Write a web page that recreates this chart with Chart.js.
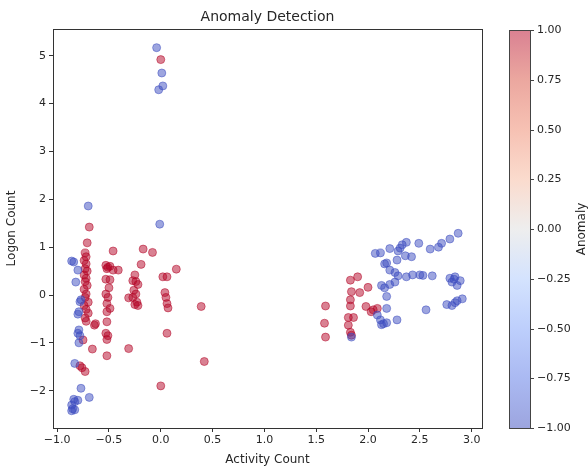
<!DOCTYPE html>
<html>
<head>
<meta charset="utf-8">
<script src="https://cdn.jsdelivr.net/npm/chart.js@4.4.0/dist/chart.umd.min.js"></script>
<style>
  html, body { margin: 0; padding: 0; background: #fff; }
</style>
</head>
<body>
<canvas id="grafico" width="588" height="468"></canvas>
<script>
/* Puntos normales (anomalía = -1) */
var normalX = [-0.04, 0.01, 0.02, -0.02, -0.70, -0.01,
  -0.86, -0.84, -0.80, -0.82, -0.77, -0.78, -0.79, -0.80, -0.79, -0.80, -0.78, -0.79,
  -0.83, -0.77, -0.69, -0.84, -0.83, -0.86, -0.85, -0.83, -0.86, -0.80,
  2.07, 2.12, 2.21, 2.29, 2.31, 2.33, 2.37, 2.36, 2.42, 2.49, 2.60, 2.68, 2.71, 2.79, 2.87,
  2.18, 2.16, 2.28, 2.21, 2.26, 2.29, 2.37, 2.43, 2.50, 2.53, 2.62,
  2.13, 2.16, 2.21, 2.26, 2.18,
  2.79, 2.84, 2.89, 2.86, 2.81, 2.83,
  2.76, 2.81, 2.86, 2.91, 2.84,
  2.56, 2.18, 2.09, 2.12, 2.15, 2.18, 2.13, 2.28, 1.84];
var normalY = [5.17, 4.64, 4.37, 4.29, 1.86, 1.48,
  0.71, 0.69, 0.52, 0.27, -0.10, -0.14, -0.35, -0.40, -0.73, -0.80, -0.85, -1.00,
  -1.43, -1.95, -2.14, -2.18, -2.23, -2.30, -2.38, -2.40, -2.42, -2.20,
  0.87, 0.88, 0.97, 0.92, 0.98, 1.05, 1.10, 0.82, 0.80, 1.08, 0.96, 1.00, 1.08, 1.17, 1.29,
  0.67, 0.65, 0.73, 0.52, 0.47, 0.40, 0.38, 0.42, 0.42, 0.41, 0.40,
  0.20, 0.15, 0.22, 0.27, -0.03,
  0.35, 0.38, 0.30, 0.20, 0.27, 0.33,
  -0.20, -0.22, -0.12, -0.08, -0.16,
  -0.31, -0.28, -0.42, -0.52, -0.60, -0.58, -0.62, -0.52, -0.88];

/* Puntos anómalos (anomalía = 1) */
var anomaliaX = [0.00,
  -0.69, -0.71, -0.46, -0.17, -0.08, -0.19, 0.15, -0.41,
  -0.73, -0.72, -0.74, -0.72, -0.73, -0.71, -0.74, -0.72, -0.73, -0.71, -0.74, -0.72,
  -0.73, -0.70, -0.74, -0.72, -0.70, -0.73, -0.72, -0.75, -0.66, -0.78, -0.76, -0.73,
  -0.53, -0.51, -0.49, -0.52, -0.46, -0.53, -0.49, -0.50, -0.53, -0.51, -0.52, -0.49,
  -0.52, -0.52, -0.53, -0.51, -0.52, -0.52, -0.64, -0.63,
  -0.25, -0.27, -0.24, -0.22, -0.26, -0.24, -0.27, -0.23, -0.25, -0.22, -0.31, -0.31,
  0.02, 0.06, 0.04, 0.05, 0.06, 0.07, 0.06, 0.39, 0.42, 0.00,
  1.59, 1.58, 1.59, 1.83, 1.90, 1.84, 1.92, 2.00, 1.83, 1.83, 1.98, 2.05, 2.09,
  1.81, 1.86, 1.81, 1.83, 1.84, 2.03];
var anomaliaY = [4.92,
  1.42, 1.09, 0.92, 0.96, 0.89, 0.64, 0.54, 0.52,
  0.88, 0.80, 0.72, 0.65, 0.55, 0.50, 0.42, 0.35, 0.28, 0.20, 0.12, 0.02,
  -0.05, -0.15, -0.22, -0.30, -0.38, -0.48, -0.55, -0.94, -1.13, -1.48, -1.52, -1.60,
  0.62, 0.58, 0.60, 0.55, 0.52, 0.33, 0.32, 0.15, 0.02, -0.05, -0.18, -0.28,
  -0.35, -0.56, -0.80, -0.85, -0.93, -1.27, -0.63, -0.60,
  0.42, 0.30, 0.28, 0.22, 0.10, 0.02, -0.05, -0.15, -0.20, -0.22, -0.06, -1.12,
  0.38, 0.38, 0.05, -0.05, -0.18, -0.27, -0.80, -0.24, -1.39, -1.90,
  -0.23, -0.59, -0.88, 0.31, 0.38, 0.07, 0.05, 0.16, -0.10, -0.23, -0.24, -0.31, -0.28,
  -0.47, -0.47, -0.63, -0.78, -0.84, -0.35];

/* Marcas de la barra de color */
var barraTicks = [-1.00, -0.75, -0.50, -0.25, 0.00, 0.25, 0.50, 0.75, 1.00];

var azul = 'rgba(59, 76, 192, 0.5)';
var rojo = 'rgba(180, 4, 38, 0.5)';
var texto = '#262626';
var fuente = 'DejaVu Sans';

function menos(str) {
  return String(str).replace('-', '\u2212');
}

function aPuntos(xs, ys) {
  return xs.map(function(x, i) {
    return { x: x, y: ys[i] };
  });
}

/* Paleta coolwarm aproximada, de -1 a 1 */
var coolwarm = [
  [59, 76, 192], [86, 116, 229], [124, 159, 249], [170, 199, 253],
  [221, 221, 221], [246, 183, 156], [238, 132, 104], [216, 80, 64], [180, 4, 38]
];

/* Título, marco completo de los ejes y barra de color */
var marcoYBarra = {
  id: 'marcoYBarra',
  afterDraw: function(chart) {
    var ctx = chart.ctx;
    var a = chart.chartArea;
    ctx.save();

    ctx.fillStyle = texto;
    ctx.font = '14px "' + fuente + '"';
    ctx.textAlign = 'center';
    ctx.textBaseline = 'middle';
    ctx.fillText('Anomaly Detection', (a.left + a.right) / 2, 17);

    ctx.strokeStyle = '#333';
    ctx.lineWidth = 1;
    ctx.strokeRect(Math.round(a.left) + 0.5, Math.round(a.top) + 0.5,
      Math.round(a.right - a.left), Math.round(a.bottom - a.top));

    var bx = Math.round(a.right) + 27;
    var bw = 21;
    var top = Math.round(a.top) + 1;
    var bottom = Math.round(a.bottom);
    var grad = ctx.createLinearGradient(0, bottom, 0, top);
    coolwarm.forEach(function(c, i) {
      grad.addColorStop(i / (coolwarm.length - 1), 'rgba(' + c.join(',') + ',0.5)');
    });
    ctx.fillStyle = '#fff';
    ctx.fillRect(bx, top, bw, bottom - top);
    ctx.fillStyle = grad;
    ctx.fillRect(bx, top, bw, bottom - top);
    ctx.strokeStyle = '#444';
    ctx.strokeRect(bx + 0.5, top + 0.5, bw, bottom - top);

    ctx.fillStyle = texto;
    ctx.font = '11px "' + fuente + '"';
    ctx.textAlign = 'left';
    ctx.textBaseline = 'middle';
    barraTicks.forEach(function(v) {
      var y = Math.round(bottom - (v + 1) / 2 * (bottom - top)) + 0.5;
      ctx.beginPath();
      ctx.moveTo(bx + bw, y);
      ctx.lineTo(bx + bw + 4, y);
      ctx.stroke();
      ctx.fillText(menos(v.toFixed(2)), bx + bw + 7, y);
    });

    ctx.save();
    ctx.translate(bx + bw + 52, (top + bottom) / 2);
    ctx.rotate(-Math.PI / 2);
    ctx.textAlign = 'center';
    ctx.font = '12px "' + fuente + '"';
    ctx.fillText('Anomaly', 0, 0);
    ctx.restore();
    ctx.restore();
  }
};

var ctx = document.getElementById('grafico');
var grafico = new Chart(ctx, {
  type: 'scatter',
  data: {
    datasets: [{
      label: 'Normal',
      data: aPuntos(normalX, normalY),
      backgroundColor: azul,
      borderColor: azul,
      borderWidth: 1,
      pointRadius: 4
    }, {
      label: 'Anomalía',
      data: aPuntos(anomaliaX, anomaliaY),
      backgroundColor: rojo,
      borderColor: rojo,
      borderWidth: 1,
      pointRadius: 4
    }]
  },
  options: {
    responsive: false,
    animation: false,
    layout: { padding: { left: 0, right: 106, top: 29, bottom: 0 } },
    plugins: {
      legend: { display: false },
      tooltip: { enabled: false },
      title: { display: false }
    },
    scales: {
      x: {
        type: 'linear',
        min: -1.04,
        max: 3.10,
        afterFit: function(scale) { scale.height = 40; },
        border: { display: false },
        grid: { display: true, drawOnChartArea: false, drawTicks: true, tickLength: 4, color: '#333' },
        ticks: {
          stepSize: 0.5,
          includeBounds: false,
          padding: 2,
          color: texto,
          maxRotation: 0,
          font: { family: fuente, size: 11 },
          callback: function(v) { return menos(v.toFixed(1)); }
        },
        title: {
          display: true,
          text: 'Activity Count',
          color: texto,
          font: { family: fuente, size: 12 },
          padding: { top: 0, bottom: 1 }
        }
      },
      y: {
        type: 'linear',
        min: -2.78,
        max: 5.56,
        afterFit: function(scale) { scale.width = 53; },
        border: { display: false },
        grid: { display: true, drawOnChartArea: false, drawTicks: true, tickLength: 4, color: '#333' },
        ticks: {
          stepSize: 1,
          includeBounds: false,
          padding: 3,
          color: texto,
          font: { family: fuente, size: 11 },
          callback: function(v) { return menos(v); }
        },
        title: {
          display: true,
          text: 'Logon Count',
          color: texto,
          font: { family: fuente, size: 12 },
          padding: { top: 4.5, bottom: 0 }
        }
      }
    }
  },
  plugins: [marcoYBarra]
});
</script>
</body>
</html>
